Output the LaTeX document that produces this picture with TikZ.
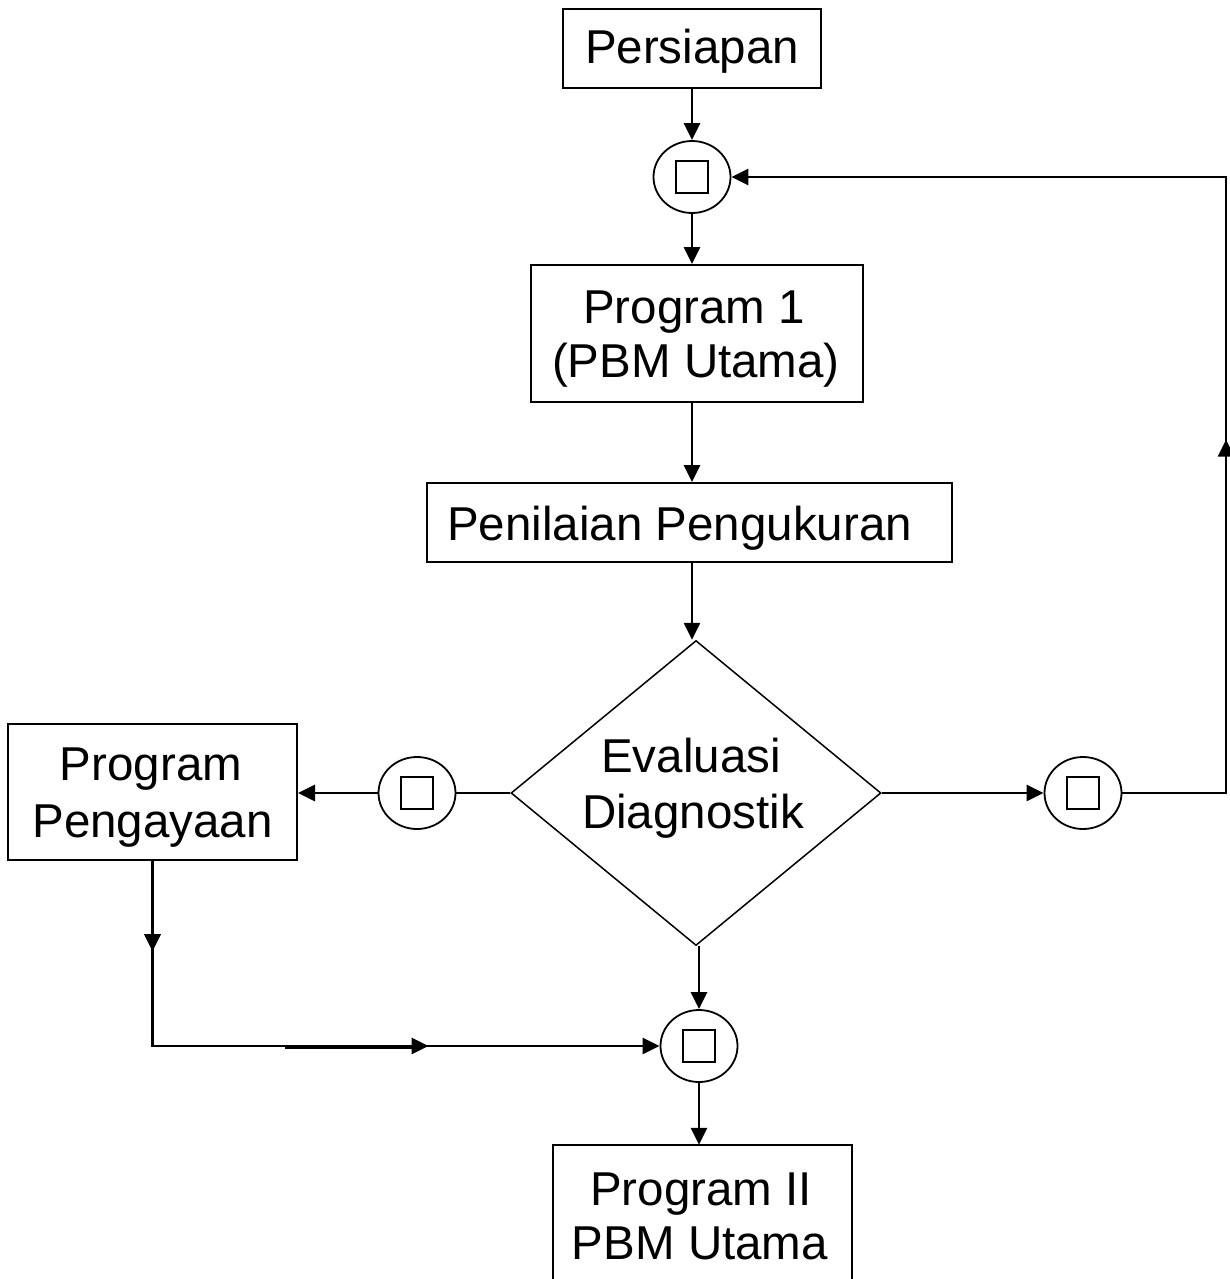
\documentclass[tikz,border=0pt]{standalone}
\usepackage{fontspec}
\setmainfont{Liberation Sans}
\usetikzlibrary{arrows.meta,shapes.geometric,decorations.markings}
\begin{document}
\begin{tikzpicture}[x=1pt,y=-1pt,
  boxnode/.style={draw,line width=2pt,inner sep=0pt},
  txt/.style={inner sep=0pt,anchor=base,font=\fontsize{47.5}{55}\selectfont},
  conn/.style={draw,ellipse,line width=1.8pt,inner sep=0pt,minimum width=77pt,minimum height=72pt},
  sq/.style={draw,line width=1.8pt,inner sep=0pt,minimum width=32pt,minimum height=32pt},
  tip/.style={-{Triangle[length=17pt,width=16pt]}},
  line/.style={line width=2.8pt},
  midarrow/.style={postaction={decorate},decoration={markings,mark=at position #1 with {\arrow{Triangle[length=17pt,width=16pt]}}}}
]
\useasboundingbox (0,0) rectangle (1229,1279);
\fill[white] (0,0) rectangle (1229,1279);

% boxes
\node[boxnode,minimum width=258pt,minimum height=79pt] (pers) at (692,48.5) {};
\node[boxnode,minimum width=332pt,minimum height=137pt] (prog1) at (697,333.5) {};
\node[boxnode,minimum width=525pt,minimum height=79pt] (pen) at (689.5,522.5) {};
\node[boxnode,minimum width=289pt,minimum height=136pt] (pp) at (152.5,792) {};
\node[inner sep=0pt,minimum width=299pt,minimum height=200pt] (prog2) at (702.5,1245) {};
\draw[line width=2pt] (prog2.south west) -- (prog2.north west) -- (prog2.north east) -- (prog2.south east);
\node[draw,diamond,line width=1.5pt,inner sep=0pt,minimum width=370pt,minimum height=305pt] (diam) at (696,793) {};

% connector circles
\node[conn] (c1) at (692,177) {};
\node[sq] (s1) at (c1) {};
\node[conn] (c2) at (417,793) {};
\node[sq] (s2) at (c2) {};
\node[conn] (c3) at (1083,793) {};
\node[sq] (s3) at (c3) {};
\node[conn] (c4) at (699,1046) {};
\node[sq] (s4) at (c4) {};

% texts
\node[txt] (tpers) at (692,64) {Persiapan};
\node[txt] (tp1a) at (694,323) {Program 1};
\node[txt] (tp1b) at (696,377) {(PBM Utama)};
\node[txt,anchor=base west] (tpen) at (447,540) {Penilaian Pengukuran};
\node[txt] (tev1) at (691,772) {Evaluasi};
\node[txt] (tev2) at (693,828) {Diagnostik};
\node[txt] (tpp1) at (151,780) {Program};
\node[txt] (tpp2) at (152.5,837) {Pengayaan};
\node[txt] (tp2a) at (701,1205) {Program II};
\node[txt] (tp2b) at (700,1259) {PBM Utama};

% coordinates for bends
\coordinate (r1) at (1226,793);
\coordinate (r2) at (1226,177);
\coordinate (l1) at (152.5,1046);

% connectors
\draw[line,tip] (pers.south -| c1) -- (c1.north);
\draw[line,tip] (c1.south) -- (c1.south |- prog1.north);
\draw[line,tip] (prog1.south -| c1) -- (pen.north -| c1);
\draw[line,tip] (pen.south -| c1) -- (diam.north -| c1);
\draw[line] (diam.west) -- (c2.east);
\draw[line,tip] (c2.west) -- (c2.west -| pp.east);
\draw[line,tip] (diam.east) -- (c3.west);
\draw[line,tip,midarrow=457pt] (c3.east) -- (r1) -- (r2) -- (c1.east);
\draw[line,tip,midarrow=90pt,postaction={decorate,decoration={markings,mark=at position 461pt with {\arrow{Triangle[length=17pt,width=16pt]}}}}] (pp.south) -- (l1) -- (c4.west);
\draw[line width=3.5pt] (285,1047.5) -- (415,1047.5);
\draw[line,tip] (c4.north |- diam.south) -- (c4.north);
\draw[line,tip] (c4.south) -- (c4.south |- prog2.north);
\end{tikzpicture}
\end{document}
